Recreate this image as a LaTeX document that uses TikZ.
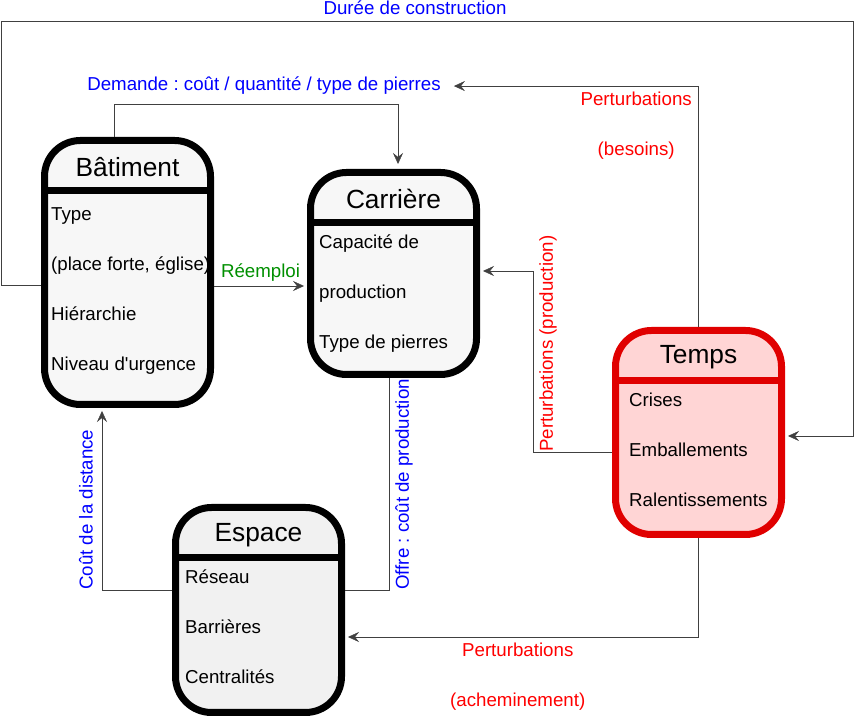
\documentclass[tikz,border=0pt]{standalone}
\usepackage{fontspec}
\setmainfont{Liberation Sans}
\usepackage{tikz}
\usetikzlibrary{arrows.meta}
\definecolor{boxfill}{HTML}{F7F7F7}
\definecolor{espfill}{HTML}{F1F1F1}
\definecolor{tempsline}{HTML}{E00000}
\definecolor{tempsfill}{HTML}{FFD5D5}
\definecolor{blueText}{HTML}{0000FF}
\definecolor{redText}{HTML}{FF0000}
\definecolor{greenText}{HTML}{008F00}
\tikzstyle{entity} = [rectangle, rounded corners=36pt, minimum width=166pt,
line width=7pt, draw=black, fill=boxfill]
\tikzstyle{divider} = [line width=7pt]
\tikzstyle{heading} = [font=\fontsize{26.3}{31}\selectfont, anchor=base,
inner sep=0pt]
\tikzstyle{attr} = [font=\fontsize{18.7}{22.4}\selectfont, anchor=base west,
inner sep=0pt]
\tikzstyle{edgetext} = [font=\fontsize{18.7}{22.4}\selectfont, inner sep=0pt]
\tikzstyle{link} = [draw=black!75]
\tikzstyle{arrow} = [link, -{Stealth[length=11pt, width=10pt, inset=4pt]},
shorten >=3pt]

\begin{document}
\frenchspacing
\begin{tikzpicture}[x=1pt, y=1pt]
\useasboundingbox (0,0) rectangle (854,717);

\node(bat)[entity, minimum height=264pt] at (127.5,444.5) {};
\node(car)[entity, minimum height=202pt] at (393.5,443.5) {};
\node(temps)[entity, minimum height=204pt, draw=tempsline, fill=tempsfill] at (698.5,284.5) {};
\node(esp)[entity, minimum height=205pt, fill=espfill] at (258.5,107) {};

\draw[divider] ([yshift=-54pt]bat.north west) -- ([yshift=-54pt]bat.north east);
\draw[divider] ([yshift=-54pt]car.north west) -- ([yshift=-54pt]car.north east);
\draw[divider, tempsline] ([yshift=-54pt]temps.north west) -- ([yshift=-54pt]temps.north east);
\draw[divider] ([yshift=-54pt]esp.north west) -- ([yshift=-54pt]esp.north east);

\node(battitle)[heading] at ([yshift=-40pt]bat.north) {Bâtiment};
\node(bat1)[attr] at ([xshift=10pt, yshift=-84pt]bat.north west) {Type};
\node(bat2)[attr] at ([yshift=-50pt]bat1.base west) {(place forte, église)};
\node(bat3)[attr] at ([yshift=-50pt]bat2.base west) {Hiérarchie};
\node(bat4)[attr] at ([yshift=-50pt]bat3.base west) {Niveau d\textquotesingle urgence};

\node(cartitle)[heading] at ([yshift=-40pt]car.north) {Carrière};
\node(car1)[attr] at ([xshift=12pt, yshift=-80pt]car.north west) {Capacité de};
\node(car2)[attr] at ([yshift=-50pt]car1.base west) {production};
\node(car3)[attr] at ([yshift=-50pt]car2.base west) {Type de pierres};

\node(tempstitle)[heading] at ([yshift=-37pt]temps.north) {Temps};
\node(temps1)[attr] at ([xshift=17pt, yshift=-80pt]temps.north west) {Crises};
\node(temps2)[attr] at ([yshift=-50pt]temps1.base west) {Emballements};
\node(temps3)[attr] at ([yshift=-50pt]temps2.base west) {Ralentissements};

\node(esptitle)[heading] at ([yshift=-38pt]esp.north) {Espace};
\node(esp1)[attr] at ([xshift=13pt, yshift=-80pt]esp.north west) {Réseau};
\node(esp2)[attr] at ([yshift=-50pt]esp1.base west) {Barrières};
\node(esp3)[attr] at ([yshift=-50pt]esp2.base west) {Centralités};

\draw[arrow, shorten >=5pt]([xshift=-13.5pt]bat.north) -- ++(0,33) -| node(demande)[edgetext,
blueText, pos=0.25, anchor=base, xshift=8pt, yshift=13pt]{Demande : coût / quantité / type
de pierres}([xshift=4.5pt]car.north);
\draw[arrow](temps.north) |- node(besoins)[edgetext, redText, pos=0.5, anchor=north east,
xshift=-6.5pt, yshift=-6pt, align=center]{Perturbations\\[27.6pt](besoins)}([xshift=10pt]demande.east);
\draw[arrow]([yshift=-12.5pt]bat.west) -| (1,696) -| node(duree)[edgetext, blueText,
pos=0.25, anchor=base, xshift=-12pt, yshift=6pt]{Durée de construction}(853,281)
-- ([yshift=-3.5pt]temps.east);
\draw[arrow]([yshift=-13.5pt]bat.east) -- node(reemploi)[edgetext, greenText, anchor=base,
yshift=8pt]{Réemploi}([yshift=-12.5pt]car.west);
\draw[arrow]([yshift=-19.5pt]temps.west) -- ++(-79,0) |- node(production)[edgetext, redText,
pos=0, rotate=90, anchor=north west, inner ysep=6pt]{Perturbations (production)}([yshift=2.5pt]car.east);
\draw[link]([xshift=-4.5pt]car.south) |- node(offre)[edgetext, blueText, pos=0.5, rotate=90,
anchor=north west, inner ysep=6pt]{Offre : coût de production}([yshift=20pt]esp.east);
\draw[arrow]([yshift=20pt]esp.west) -| node(distance)[edgetext, blueText, pos=0.5, rotate=90,
anchor=south west, inner ysep=9pt]{Coût de la distance}([xshift=-25.5pt]bat.south);
\draw[arrow](temps.south) |- node(acheminement)[edgetext, redText, pos=0.75, anchor=north,
xshift=-4pt, yshift=-5.5pt, align=center]{Perturbations\\[27.6pt](acheminement)}([yshift=-27pt]esp.east);

\end{tikzpicture}
\end{document}
